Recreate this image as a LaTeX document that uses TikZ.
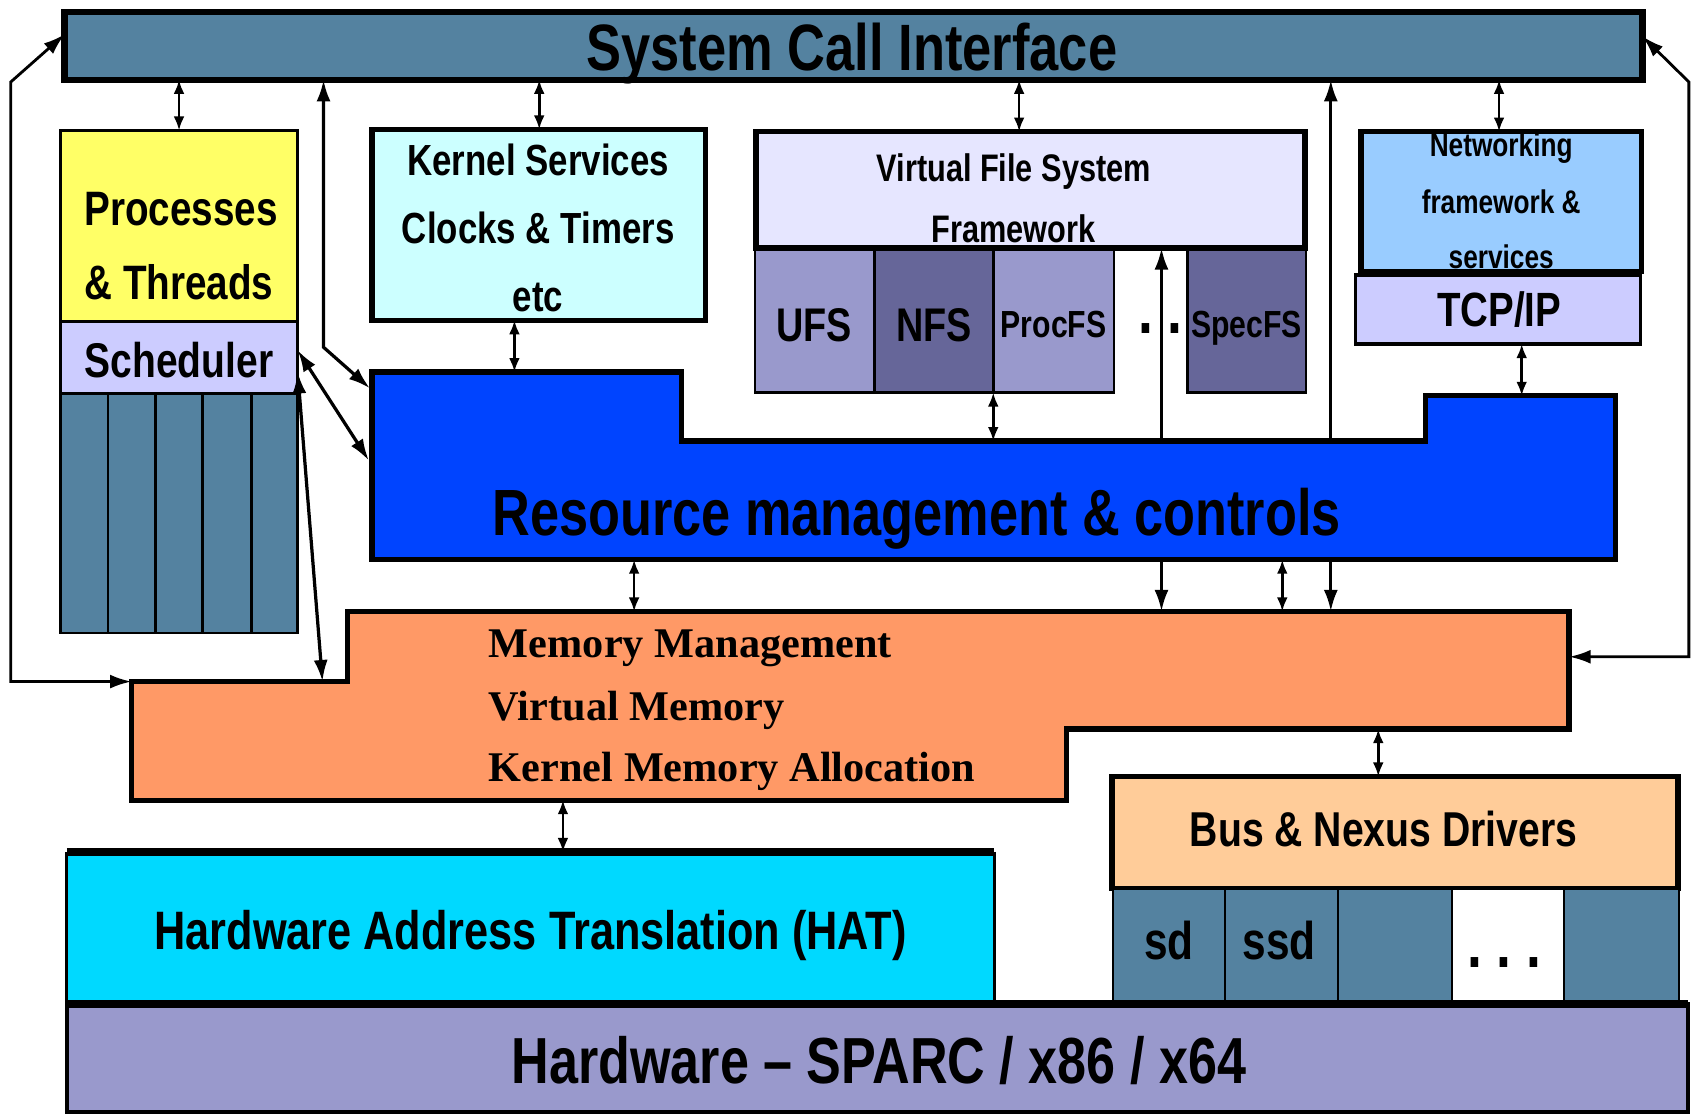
\documentclass[tikz,border=0pt]{standalone}
\usepackage{fontspec}
\newfontfamily\nar[FakeStretch=0.8]{Liberation Sans}
\newfontfamily\ser{Liberation Serif}
\usetikzlibrary{arrows.meta,fit,calc}
\definecolor{sciC}{RGB}{84,130,160}
\definecolor{yelC}{RGB}{255,255,102}
\definecolor{lavC}{RGB}{204,204,255}
\definecolor{kerC}{RGB}{204,255,255}
\definecolor{vfsC}{RGB}{230,230,255}
\definecolor{fsA}{RGB}{153,153,204}
\definecolor{fsB}{RGB}{102,102,153}
\definecolor{netC}{RGB}{153,204,255}
\definecolor{resC}{RGB}{0,68,255}
\definecolor{memC}{RGB}{255,153,102}
\definecolor{busC}{RGB}{255,204,153}
\definecolor{hatC}{RGB}{0,217,255}
\definecolor{hwC}{RGB}{153,153,204}
\tikzset{
  box/.style={draw=black, inner sep=0pt, outer sep=0pt},
  lbl/.style={inner sep=0pt, anchor=base},
  sf/.style={font=\nar\bfseries\fontsize{#1}{#1}\selectfont},
  dbl/.style={{Latex[length=6.5pt,width=5pt]}-{Latex[length=6.5pt,width=5pt]}, line width=1.2pt},
  bigdbl/.style={{Latex[length=10pt,width=6.5pt]}-{Latex[length=10pt,width=6.5pt]}, line width=1.5pt},
  loop/.style={{Latex[length=10pt,width=6.5pt]}-{Latex[length=10pt,width=6.5pt]}, line width=1.3pt}
}
\begin{document}
\begin{tikzpicture}[x=0.5pt,y=-0.5pt]
\useasboundingbox (0,0) rectangle (1568,1037);

% polygon corner coordinates
\coordinate (r1) at (345,345); \coordinate (r2) at (632,345); \coordinate (r3) at (632,409);
\coordinate (r4) at (1322,409); \coordinate (r5) at (1322,367); \coordinate (r6) at (1498,367);
\coordinate (r7) at (1498,519); \coordinate (r8) at (345,519);
\coordinate (m1) at (322,567); \coordinate (m2) at (1455,567); \coordinate (m3) at (1455,676);
\coordinate (m4) at (989,676); \coordinate (m5) at (989,742); \coordinate (m6) at (122,742);
\coordinate (m7) at (122,632); \coordinate (m8) at (322,632);

% system call interface
\node[box, fill=sciC, line width=3pt, fit={(60,11)(1523,74)}] (sci) {};
\node[lbl, sf=30.4] (scit) at (790,65) {System Call Interface};

% VFS framework
\node[box, fill=fsA, line width=1.2pt, fit={(700,231)(811,364)}] (ufs) {};
\node[box, fill=fsB, line width=1.2pt, fit={(811,231)(921,364)}] (nfs) {};
\node[box, fill=fsA, line width=1.2pt, fit={(921,231)(1033,364)}] (procfs) {};
\node[box, fill=fsB, line width=1.2pt, fit={(1101,232)(1211,364)}] (specfs) {};
\node[box, fill=vfsC, line width=2.5pt, fit={(701,122)(1210,230)}] (vfs) {};
\node[lbl, sf=17.8] at (940,168) {Virtual File System};
\node[lbl, sf=17.8] at (940,225) {Framework};
\node[lbl, sf=21.9] at (755,317) {UFS};
\node[lbl, sf=21.9] at (866,317) {NFS};
\node[lbl, sf=17.5] at (977,313) {ProcFS};
\node[lbl, sf=17.5] at (1156,313) {SpecFS};
\node[lbl, sf=31] (vdots) at (1076,309) {.\ .};

% long lines passing behind the resource box
\draw[bigdbl] (1077,0 |- vfs.south) -- (1077,0 |- m1);
\draw[bigdbl] (1234,0 |- sci.south) -- (1234,0 |- m1);

% processes & threads
\node[box, fill=yelC, line width=1.5pt, fit={(56,121)(276,298)}] (proc) {};
\node[lbl, sf=22.4] at (168,209) {Processes};
\node[lbl, sf=22.4] at (166,278) {\& Threads};
\node[box, fill=lavC, line width=1.5pt, fit={(56,298)(276,365)}] (sched) {};
\node[lbl, sf=22.6] at (166,350) {Scheduler};
\foreach \a/\b [count=\i] in {56/100,100/144,144/188,188/233,233/276}
  \node[box, fill=sciC, line width=1.2pt, fit={(\a,365)(\b,587)}] (col\i) {};

% kernel services
\node[box, fill=kerC, line width=2.5pt, fit={(345,120)(654,297)}] (kern) {};
\node[lbl, sf=20.2] at (499,163) {Kernel Services};
\node[lbl, sf=20.2] at (499,226) {Clocks \& Timers};
\node[lbl, sf=20.2] at (499,289) {etc};

% networking
\node[box, fill=netC, line width=2.5pt, fit={(1262,122)(1522,252)}] (net) {};
\node[lbl, sf=15.2] at (1392,145) {Networking};
\node[lbl, sf=15.2] at (1392,198) {framework \&};
\node[lbl, sf=15.2] at (1392,249) {services};
\node[box, fill=lavC, line width=1.5pt, fit={(1257,255)(1521,319)}] (tcp) {};
\node[lbl, sf=22.3] at (1390,303) {TCP/IP};

% resource management
\draw[fill=resC, line width=2.5pt, line join=miter] (r1) -- (r2) -- (r3) -- (r4) -- (r5) -- (r6) -- (r7) -- (r8) -- cycle;
\node[lbl, sf=30.3] (rest) at (850,497) {Resource management \& controls};

% memory management
\draw[fill=memC, line width=2.5pt, line join=miter] (m1) -- (m2) -- (m3) -- (m4) -- (m5) -- (m6) -- (m7) -- (m8) -- cycle;
\node[lbl, anchor=base west, font=\ser\bfseries\fontsize{19.6}{20}\selectfont] at (453,610) {Memory Management};
\node[lbl, anchor=base west, font=\ser\bfseries\fontsize{19.6}{20}\selectfont] at (453,668) {Virtual Memory};
\node[lbl, anchor=base west, font=\ser\bfseries\fontsize{19.6}{20}\selectfont] at (453,725) {Kernel Memory Allocation};

% bus & nexus drivers
\node[box, fill=busC, line width=2.5pt, fit={(1031,720)(1556,824)}] (bus) {};
\node[lbl, sf=22.7] at (1283,785) {Bus \& Nexus Drivers};
\node[box, fill=sciC, line width=1pt, fit={(1032,824)(1136,928)}] (sd) {};
\node[box, fill=sciC, line width=1pt, fit={(1136,824)(1241,928)}] (ssd) {};
\node[box, fill=sciC, line width=1pt, fit={(1241,824)(1346,928)}] (drv3) {};
\node[box, fill=white, line width=1pt, fit={(1346,824)(1450,928)}] (drvdots) {};
\node[box, fill=sciC, line width=1pt, fit={(1450,824)(1557,928)}] (drv5) {};
\node[lbl, sf=24.6] at (1084,890) {sd};
\node[lbl, sf=24.6] at (1186,890) {ssd};
\node[lbl, sf=31] at (1395,897) {.\ .\ .};

% HAT
\node[box, draw=none, fill=hatC, fit={(62,790)(922,930)}] (hat) {};
\draw[line width=1.5pt] (hat.north west) -- (hat.south west) (hat.north east) -- (hat.south east);
\draw[line width=3.5pt] (hat.north west) -- (hat.north east);
\node[lbl, sf=25.1] at (492,880) {Hardware Address Translation (HAT)};

% hardware
\node[box, fill=hwC, line width=2pt, fit={(62,931)(1565,1031)}] (hw) {};
\draw[line width=3.5pt] (hw.north west) -- (hw.north east);
\node[lbl, sf=30.2] at (815,1005) {Hardware – SPARC / x86 / x64};

% connectors
\draw[dbl] (166,0 |- sci.south) -- (166,0 |- proc.north);
\draw[dbl] (500,0 |- sci.south) -- (500,0 |- kern.north);
\draw[dbl] (945,0 |- sci.south) -- (945,0 |- vfs.north);
\draw[dbl] (1390,0 |- sci.south) -- (1390,0 |- net.north);
\draw[dbl] (477,0 |- kern.south) -- (477,0 |- r1);
\draw[dbl] (921,0 |- nfs.south) -- (921,0 |- r3);
\draw[dbl] (1411,0 |- tcp.south) -- (1411,0 |- r5);
\draw[dbl] (588,0 |- r8) -- (588,0 |- m1);
\draw[dbl] (1189,0 |- r8) -- (1189,0 |- m1);
\draw[dbl] (1278,0 |- m3) -- (1278,0 |- bus.north);
\draw[dbl] (522,0 |- m6) -- (522,0 |- hat.north);
\draw[bigdbl] (300,0 |- sci.south) -- (300,322) -- (343,360);
\draw[bigdbl] ($(sched.north east)!0.4!(sched.south east)$) -- (342,427);
\draw[bigdbl] ($(sched.north east)!0.7!(sched.south east)$) -- (299,0 |- m8);
\draw[loop] (m7) -- (10,0 |- m7) -- (10,76) -- ($(sci.north west)!0.33!(sci.south west)$);
\draw[loop] ($(sci.north east)!0.36!(sci.south east)$) -- (1566,76) -- (1566,609) -- (1455,609);
\end{tikzpicture}
\end{document}
